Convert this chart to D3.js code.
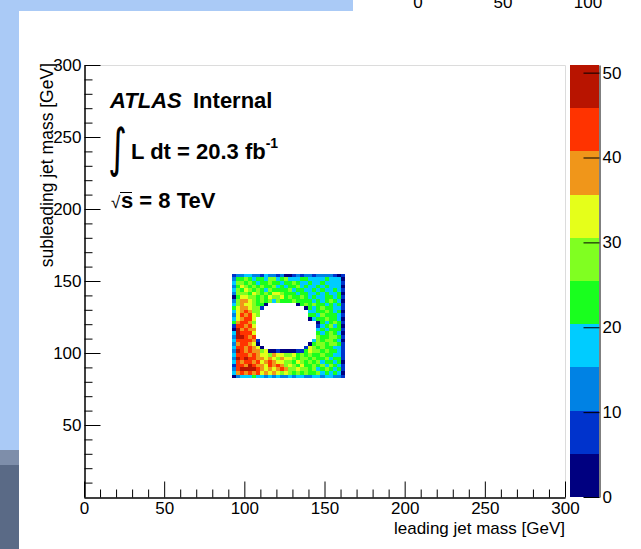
<!DOCTYPE html>
<html>
<head>
<meta charset="utf-8">
<script src="https://cdn.jsdelivr.net/npm/d3@7"></script>
<style>
body { margin: 0; background: #fff; }
svg { display: block; font-family: "Liberation Sans", Arial, Helvetica, sans-serif; }
</style>
</head>
<body>
<svg width="641" height="549"></svg>
<script>
// histogram binning (GeV)
var xBinStart = 92.5, yBinTop = 155, binWidth = 2.5;
var zMax = 50.9;

var xTicks = [0, 50, 100, 150, 200, 250, 300];
var yTicks = [50, 100, 150, 200, 250, 300];
var zTicks = [0, 10, 20, 30, 40, 50];
var minorTicks = [10, 20, 30, 40, 60, 70, 80, 90, 110, 120, 130, 140, 160, 170, 180, 190, 210, 220, 230, 240, 260, 270, 280, 290];
var strayTicks = [0, 50, 100]; // labels of the window behind, cut at the top

var paletteColors = ["#000080", "#0033cc", "#0082e4", "#00ccff", "#19ff1e", "#80ff21",
                     "#e5ff1a", "#f0961a", "#ff3300", "#b81400"];

// colour band (0-9) of each bin, top row first, '.' = empty
var levelRows = [
    "1223322132212001212212222101",
    "2445434435534533344333343330",
    "3554543445443445433433433331",
    "2465454544534344534334343330",
    "3546545435444453443343433431",
    "2555465454665444344334343340",
    "0466554546556454454343344341",
    "2577654545354445444434345430",
    "357665440.......045454434341",
    "46776551..........0434544331",
    "3678755............334454340",
    "2687865............443544431",
    "367886.............034454430",
    "478875...............0434541",
    "188786...............1345340",
    "097877...............3434441",
    "398886...............4345430",
    "299878...............5445541",
    "3888871.............35455430",
    "2788760............045545541",
    "38878760..........1654544331",
    "2987877560010000114655454431",
    "3888787665766556454544544331",
    "2989887767657665455454453441",
    "3878878678766554654545344340",
    "1887987768787565464454535431",
    "2899998767678755655453454341",
    "3787878676765654545445343430",
    "0233343323232232332233233221"
];

var svg = d3.select("svg");

// window background around the canvas
svg.append("rect").attr("x", 0).attr("y", 0).attr("width", 353).attr("height", 11).style("fill", "#aacaf6");
svg.append("rect").attr("x", 0).attr("y", 0).attr("width", 19).attr("height", 450).style("fill", "#aacaf6");
svg.append("rect").attr("x", 0).attr("y", 450).attr("width", 19).attr("height", 15).style("fill", "#7e8eaa");
svg.append("rect").attr("x", 0).attr("y", 465).attr("width", 19).attr("height", 84).style("fill", "#5a6a86");

var strayScale = d3.scaleLinear().domain([0, 100]).range([418, 588]);
svg.append("g").selectAll("text")
    .data(strayTicks)
    .enter()
    .append("text")
    .attr("x", function (d) {return strayScale(d)})
    .attr("y", 8)
    .attr("text-anchor", "middle")
    .style("font-size", "17px")
    .text(function (d) {return d});

var xScale = d3.scaleLinear().domain([0, 300]).range([84, 565]);
var yScale = d3.scaleLinear().domain([0, 300]).range([497, 65]);
var zScale = d3.scaleLinear().domain([0, zMax]).range([497, 65]);
var color = d3.scaleQuantize().domain([0, zMax]).range(paletteColors);

// bins
var cells = [];
levelRows.forEach(function (row, r) {
    row.split("").forEach(function (ch, c) {
        if (ch === ".") return;
        cells.push({col: c, row: r, z: (+ch + 0.5) * zMax / paletteColors.length});
    });
});

svg.append("g")
    .selectAll("rect")
    .data(cells)
    .enter()
    .append("rect")
    .attr("x", function (d) {return xScale(xBinStart + d.col * binWidth)})
    .attr("y", function (d) {return yScale(yBinTop - d.row * binWidth)})
    .attr("width", xScale(binWidth) - xScale(0))
    .attr("height", yScale(0) - yScale(binWidth))
    .attr("shape-rendering", "crispEdges")
    .style("fill", function (d) {return color(d.z)});

// frame
svg.append("path")
    .attr("d", "M84,65.5H565.5V497")
    .style("fill", "none")
    .style("stroke", "#dcdcdc");

// axes
var fontSize = "17px";
svg.append("g").attr("transform", "translate(84.5,0)")
    .call(d3.axisLeft(yScale).tickValues(yTicks).tickSize(-16).tickSizeOuter(0).tickPadding(3));
svg.append("g").attr("transform", "translate(84.5,0)")
    .call(d3.axisLeft(yScale).tickValues(minorTicks).tickSize(-8).tickSizeOuter(0).tickFormat(""));
svg.append("g").attr("transform", "translate(0,497.5)")
    .call(d3.axisBottom(xScale).tickValues(xTicks).tickSize(-16).tickSizeOuter(0).tickPadding(4));
svg.append("g").attr("transform", "translate(0,497.5)")
    .call(d3.axisBottom(xScale).tickValues(minorTicks).tickSize(-8).tickSizeOuter(0).tickFormat(""));
svg.selectAll(".tick text").style("font-size", fontSize).style("font-family", "Liberation Sans, Arial, sans-serif").attr("fill", "#000");
svg.selectAll(".domain").attr("stroke", "#000");

svg.append("text")
    .attr("x", 565)
    .attr("y", 534)
    .attr("text-anchor", "end")
    .style("font-size", "17px")
    .text("leading jet mass [GeV]");

svg.append("text")
    .attr("transform", "translate(53,63) rotate(-90)")
    .attr("text-anchor", "end")
    .style("font-size", "17.5px")
    .text("subleading jet mass [GeV]");

// palette
svg.append("g")
    .selectAll("rect")
    .data(paletteColors)
    .enter()
    .append("rect")
    .attr("x", 570)
    .attr("width", 29)
    .attr("y", function (d, i) {return zScale((i + 1) * zMax / paletteColors.length)})
    .attr("height", function (d, i) {return zScale(i * zMax / paletteColors.length) - zScale((i + 1) * zMax / paletteColors.length)})
    .attr("shape-rendering", "crispEdges")
    .style("fill", function (d) {return d});

var zAxis = svg.append("g").attr("transform", "translate(599.5,0)")
    .call(d3.axisRight(zScale).tickValues(zTicks).tickSize(-16).tickSizeOuter(0).tickPadding(3));
zAxis.selectAll("text").style("font-size", fontSize).attr("fill", "#000");
zAxis.select(".domain").attr("stroke", "#000");

// ATLAS labels
var label = svg.append("g").style("font-weight", "bold").style("font-size", "22px");
label.append("text").attr("x", 110).attr("y", 108).style("font-style", "italic").text("ATLAS");
label.append("text").attr("x", 193).attr("y", 108).text("Internal");

label.append("text")
    .attr("transform", "translate(108,166) scale(1,1.45)")
    .style("font-family", "DejaVu Sans")
    .style("font-weight", "normal")
    .style("font-size", "36px")
    .text("\u222B");
var lumi = label.append("text").attr("x", 131).attr("y", 159);
lumi.append("tspan").text("L dt = 20.3 fb");
lumi.append("tspan").attr("dy", -11).style("font-size", "14px").text("-1");

label.append("text")
    .attr("x", 111)
    .attr("y", 208)
    .style("font-weight", "normal")
    .style("font-size", "17px")
    .text("\u221A");
label.append("text").attr("x", 121).attr("y", 208).text("s = 8 TeV");
label.append("line")
    .attr("x1", 120).attr("x2", 132)
    .attr("y1", 192.5).attr("y2", 192.5)
    .style("stroke", "#000")
    .style("stroke-width", 1);
</script>
</body>
</html>
